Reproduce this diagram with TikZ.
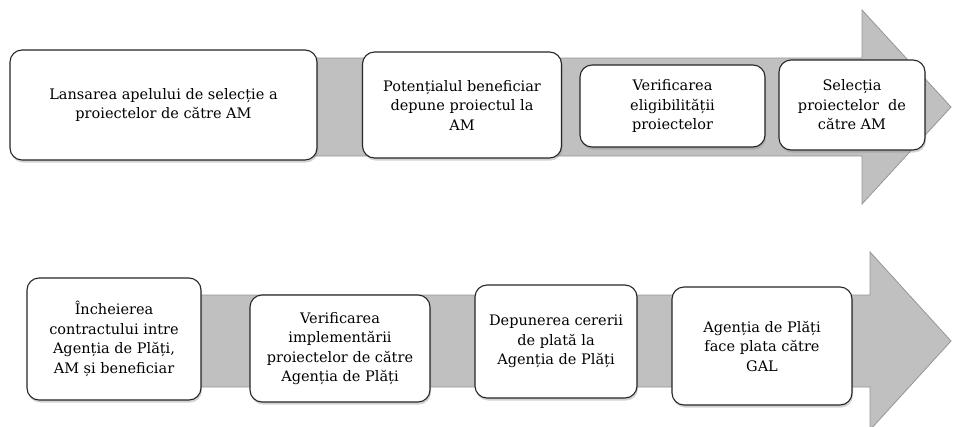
\documentclass[tikz,border=0pt]{standalone}
\usepackage{fontspec}
\setmainfont{DejaVu Serif}
\newfontfamily\stepfont{DejaVu Serif}
\usepackage{tikz}
\usetikzlibrary{positioning,calc,shadows}
\definecolor{arrowgray}{RGB}{192,192,192}
\definecolor{edgegray}{RGB}{150,150,150}

\begin{document}
\begin{tikzpicture}[x=1pt,y=-1pt,
  stepbox/.style={draw=black!85,line width=1.1pt,fill=white,rounded corners=12pt,
    align=center,inner sep=2pt,font=\stepfont\fontsize{14.5}{19.5}\selectfont,
    drop shadow={opacity=0.35,shadow xshift=1pt,shadow yshift=-2.5pt}},
  bigarrow/.style={fill=arrowgray,draw=edgegray,line width=0.8pt}]
\clip (0,0) rectangle (953,426);
\useasboundingbox (0,0) rectangle (953,426);
\fill[white] (0,0) rectangle (953,426);
\draw[bigarrow] (14,58) -- (862,58) -- (862,10) -- (951,107) -- (862,204) -- (862,156) -- (14,156) -- cycle;
\draw[bigarrow] (28,295) -- (870,295) -- (870,252) -- (951,341) -- (870,430) -- (870,387) -- (28,387) -- cycle;
\node[stepbox,minimum width=307,minimum height=110] (sel) at (163.5,105) {Lansarea apelului de selecție a\\proiectelor de către AM};
\node[stepbox,minimum width=199,minimum height=106] (dep) at (462,105) {Potențialul beneficiar\\depune proiectul la\\AM};
\node[stepbox,minimum width=185,minimum height=82] (elig) at (672.5,106) {Verificarea\\eligibilității\\proiectelor};
\node[stepbox,minimum width=146,minimum height=90] (proj) at (852,105) {Selecția\\proiectelor\ \ de\\către AM};
\node[stepbox,minimum width=174,minimum height=122] (contr) at (114,339) {Încheierea\\contractului intre\\Agenția de Plăți,\\AM și beneficiar};
\node[stepbox,minimum width=180,minimum height=107] (impl) at (340,348.5) {Verificarea\\implementării\\proiectelor de către\\Agenția de Plăți};
\node[stepbox,minimum width=162,minimum height=113] (cerere) at (556,341.5) {Depunerea cererii\\de plată la\\Agenția de Plăți};
\node[stepbox,minimum width=180,minimum height=118] (plata) at (762,346) {Agenția de Plăți\\face plata către\\GAL};
\end{tikzpicture}
\end{document}
